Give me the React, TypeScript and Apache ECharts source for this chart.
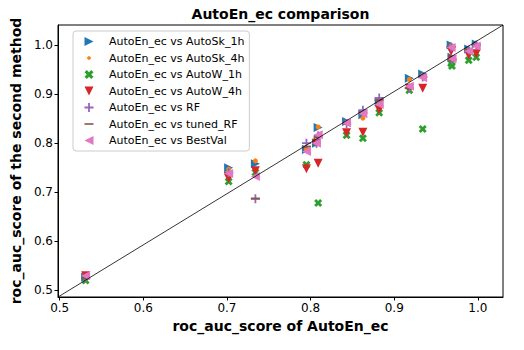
import React, { useEffect, useRef } from "react";
import * as echarts from "echarts";

const xTicks = [0.5, 0.6, 0.7, 0.8, 0.9, 1.0];
const yTicks = [0.5, 0.6, 0.7, 0.8, 0.9, 1.0];

const seriesNames = [
  "AutoEn_ec vs AutoSk_1h",
  "AutoEn_ec vs AutoSk_4h",
  "AutoEn_ec vs AutoW_1h",
  "AutoEn_ec vs AutoW_4h",
  "AutoEn_ec vs RF",
  "AutoEn_ec vs tuned_RF",
  "AutoEn_ec vs BestVal",
];

// roc_auc_score of AutoEn_ec (x) per dataset
const autoEnScores = [0.531, 0.702, 0.734, 0.795, 0.809, 0.807, 0.843, 0.8625, 0.882, 0.918, 0.934, 0.968, 0.969, 0.989, 0.998];
// roc_auc_score of the second method (y)
const autoSk1h = [0.527, 0.750, 0.758, 0.787, 0.832, 0.800, 0.844, 0.858, 0.884, 0.932, 0.941, 1.000, 0.975, 0.992, 1.002];
const autoSk4h = [0.527, 0.747, 0.764, 0.787, 0.833, 0.800, 0.843, 0.851, 0.884, 0.930, 0.938, 0.998, 0.973, 0.990, 1.000];
const autoW1h = [0.520, 0.722, 0.740, 0.756, 0.678, 0.803, 0.816, 0.810, 0.862, 0.908, 0.829, 0.963, 0.957, 0.969, 0.975];
const autoW4h = [0.530, 0.728, 0.744, 0.748, 0.759, 0.800, 0.821, 0.822, 0.868, 0.912, 0.912, 0.987, 0.970, 0.979, 0.982];
const rf = [0.525, 0.740, 0.687, 0.800, 0.815, 0.800, 0.840, 0.867, 0.892, 0.912, 0.935, 0.996, 0.970, 0.990, 1.000];
const tunedRf = [0.525, 0.740, 0.687, 0.793, 0.812, 0.800, 0.840, 0.862, 0.888, 0.912, 0.935, 0.996, 0.970, 0.990, 1.000];
const bestVal = [0.530, 0.738, 0.732, 0.783, 0.817, 0.800, 0.841, 0.860, 0.879, 0.916, 0.933, 0.995, 0.972, 0.987, 0.998];

const seriesValues = [autoSk1h, autoSk4h, autoW1h, autoW4h, rf, tunedRf, bestVal];

const xMin = 0.498;
const xMax = 1.03;
const yMin = 0.4866;
const yMax = 1.0407;

const colors = ["#1f77b4", "#ff7f0e", "#2ca02c", "#d62728", "#9467bd", "#8c564b", "#e377c2"];

const TRI_RIGHT = "path://M0,0L10,5L0,10Z";
const TRI_DOWN = "path://M0,0L10,0L5,10Z";
const TRI_LEFT = "path://M10,0L0,5L10,10Z";
const X_MARK = "path://M0,2.5L2.5,0L5,2.5L7.5,0L10,2.5L7.5,5L10,7.5L7.5,10L5,7.5L2.5,10L0,7.5L2.5,5Z";
const PLUS = "path://M4,0L6,0L6,4L10,4L10,6L6,6L6,10L4,10L4,6L0,6L0,4L4,4Z";
const DOT_LEGEND = "path://M0,0M10,10M4.2,3L5.8,3L7,4.2L7,5.8L5.8,7L4.2,7L3,5.8L3,4.2Z";
const HLINE_LEGEND = "path://M0,0M10,10M0,4.1L10,4.1L10,5.9L0,5.9Z";

const symbols = [TRI_RIGHT, "circle", X_MARK, TRI_DOWN, PLUS, "rect", TRI_LEFT];
const sizes: any[] = [9, 5, 8, 9, 9, [9, 2], 9];
const legendIcons = [TRI_RIGHT, DOT_LEGEND, X_MARK, TRI_DOWN, PLUS, HLINE_LEGEND, TRI_LEFT];

const FONT = "DejaVu Sans";

export default function App() {
  const ref = useRef<HTMLDivElement>(null);
  useEffect(() => {
    if (!ref.current) return;
    const chart = echarts.init(ref.current, null, { renderer: "svg" });
    const scatterSeries = seriesNames.map((name, si) => ({
      name,
      type: "scatter",
      data: autoEnScores.map((x, i) => [x, seriesValues[si][i]]),
      symbol: symbols[si],
      symbolSize: sizes[si],
      itemStyle: { color: colors[si], opacity: 1 },
      z: 2,
      silent: true,
    }));
    const option: any = {
      animation: false,
      backgroundColor: "#fff",
      graphic: [
        {
          type: "text",
          x: 280.5,
          y: 14,
          style: {
            text: "AutoEn_ec comparison",
            align: "center",
            verticalAlign: "middle",
            fontSize: 14,
            fontWeight: "bold",
            fontFamily: FONT,
            fill: "#000",
          },
        },
      ],
      grid: {
        left: 58,
        right: 21,
        top: 25,
        bottom: 53,
        show: true,
        borderColor: "#000",
        borderWidth: 1,
        backgroundColor: "transparent",
      },
      legend: {
        orient: "vertical",
        left: 73,
        top: 31,
        itemWidth: 30,
        itemHeight: 9,
        itemGap: 5.5,
        padding: [5, 5, 5, 11.5],
        selectedMode: false,
        backgroundColor: "rgba(255,255,255,0.8)",
        borderColor: "#cccccc",
        borderWidth: 1,
        borderRadius: 3,
        textStyle: { fontSize: 11, fontFamily: FONT, color: "#000" },
        data: seriesNames.map((n, i) => ({ name: n, icon: legendIcons[i] })),
      },
      xAxis: {
        type: "value",
        min: xMin,
        max: xMax,
        name: "roc_auc_score of AutoEn_ec",
        nameLocation: "middle",
        nameGap: 22,
        nameTextStyle: { fontSize: 14, fontWeight: "bold", fontFamily: FONT, color: "#000" },
        axisLine: { show: true, lineStyle: { color: "#000", width: 1 } },
        axisTick: { show: true, length: 3.5, customValues: xTicks, lineStyle: { color: "#000" } },
        axisLabel: {
          customValues: xTicks,
          formatter: (v: number) => v.toFixed(1),
          fontSize: 12,
          fontFamily: FONT,
          color: "#000",
          margin: 5,
        },
        splitLine: { show: false },
      },
      yAxis: {
        type: "value",
        min: yMin,
        max: yMax,
        name: "roc_auc_score of the second method",
        nameLocation: "middle",
        nameGap: 28,
        nameTextStyle: { fontSize: 14, fontWeight: "bold", fontFamily: FONT, color: "#000" },
        axisLine: { show: true, lineStyle: { color: "#000", width: 1 } },
        axisTick: { show: true, length: 3.5, customValues: yTicks, lineStyle: { color: "#000" } },
        axisLabel: {
          customValues: yTicks,
          formatter: (v: number) => v.toFixed(1),
          fontSize: 12,
          fontFamily: FONT,
          color: "#000",
          margin: 5,
        },
        splitLine: { show: false },
      },
      series: [
        ...scatterSeries,
        {
          name: "diagonal",
          type: "line",
          data: [
            [xMin, yMin],
            [xMax, yMax],
          ],
          symbol: "none",
          lineStyle: { color: "#000", width: 0.8 },
          z: 5,
          silent: true,
        },
      ],
    };
    chart.setOption(option);
    return () => chart.dispose();
  }, []);
  return (
    <div
      ref={ref}
      style={{ position: "fixed", left: 0, top: 0, width: 524, height: 350, background: "#fff" }}
    />
  );
}
